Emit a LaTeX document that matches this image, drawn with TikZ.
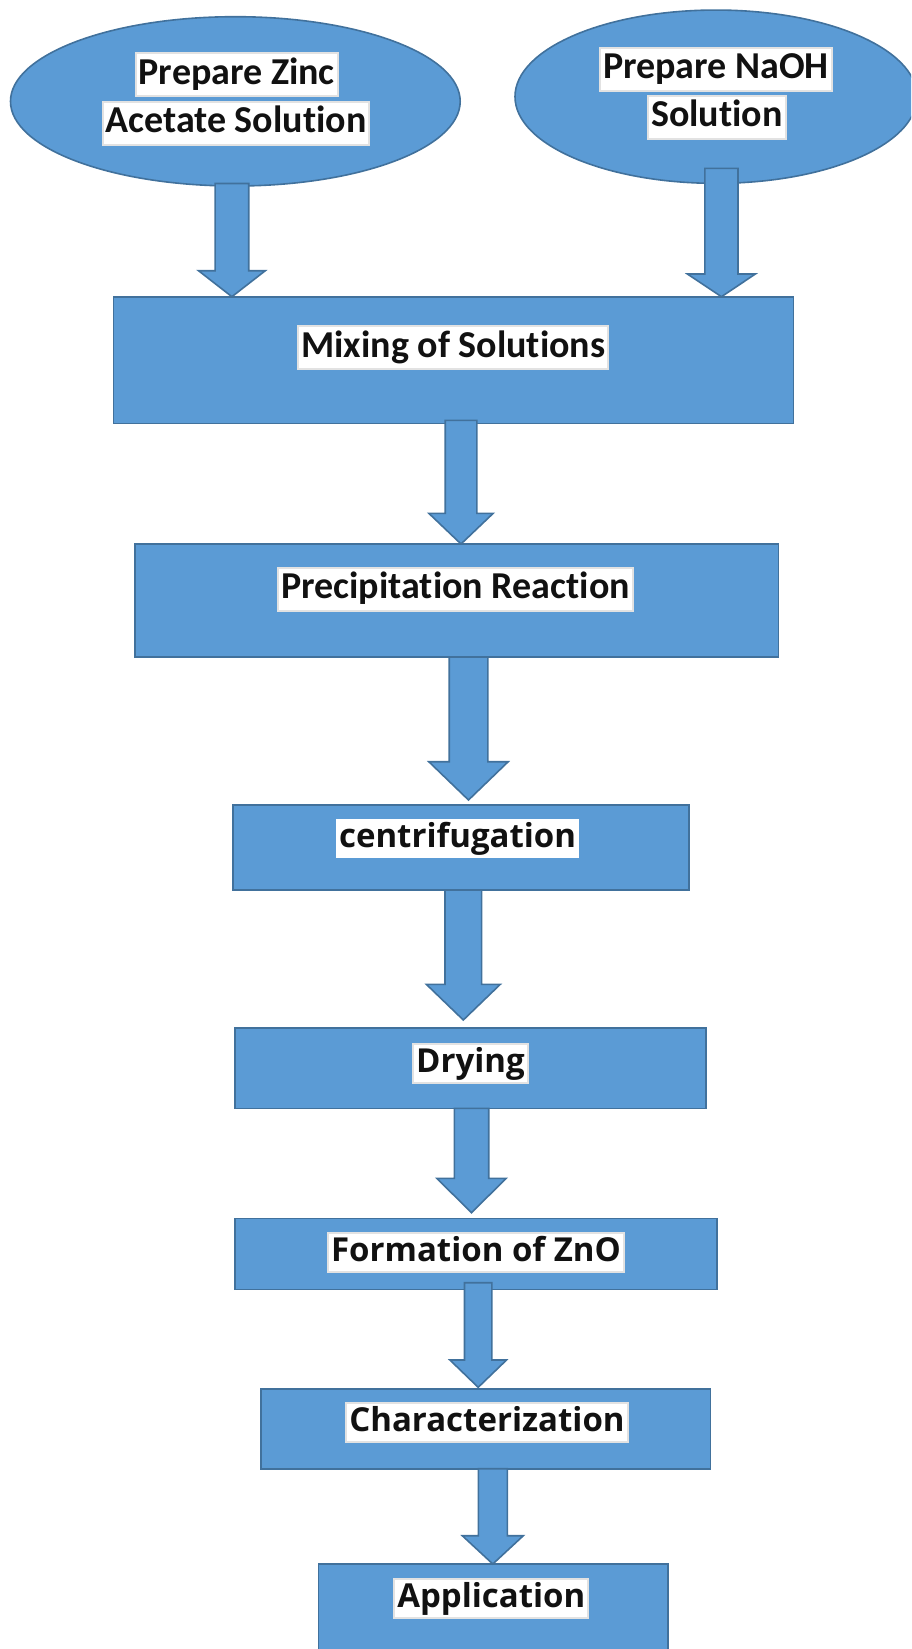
\documentclass[tikz,border=0pt]{standalone}
\usepackage{fontspec}
\usetikzlibrary{shapes.geometric,calc}
\newfontfamily\calibfont[Ligatures=NoCommon]{Carlito}
\newfontfamily\segfont{Open Sans}
\definecolor{boxblue}{RGB}{91,155,213}
\definecolor{boxedge}{RGB}{65,113,156}
\definecolor{labeledge}{RGB}{226,226,226}
\definecolor{labeltext}{RGB}{17,17,17}

\tikzset{
  stepbox/.style={draw=boxedge, fill=boxblue, line width=1.6pt, inner sep=0pt, outer sep=0pt},
  stepell/.style={stepbox, ellipse},
  flowlabel/.style={draw=labeledge, fill=white, line width=2pt, text=labeltext,
    inner xsep=3pt, inner ysep=2.5pt},
  narrowlabel/.style={flowlabel, text height=28.5pt, text depth=9.5pt,
    font=\calibfont\bfseries\fontsize{38}{40}\selectfont},
  widelabel/.style={flowlabel, text height=26pt, text depth=8pt,
    font=\segfont\bfseries\fontsize{33}{36}\selectfont},
  barrow/.style={draw=boxedge, fill=boxblue, line width=1.6pt, line join=miter}
}

% x, from, to, shaft half width, head half width, head length
\newcommand{\blockarrow}[6]{%
  \draw[barrow] let \p1=(#2), \p2=(#3) in
    (#1-#4,\y1) -- (#1-#4,\y2+#6) -- (#1-#5,\y2+#6) -- (#1,\y2)
    -- (#1+#5,\y2+#6) -- (#1+#4,\y2+#6) -- (#1+#4,\y1) -- cycle;}

\begin{document}
\begin{tikzpicture}[x=1pt,y=-1pt]
  \useasboundingbox (0,0) rectangle (911,1649);
  \clip (0,0) rectangle (911,1649);

  % sources
  \node[stepell, minimum width=449.7, minimum height=169.3] (zinc) at (235.35,101.35) {};
  \node[stepell, minimum width=402, minimum height=173.3] (naoh) at (716,96.7) {};

  % process steps
  \node[stepbox, minimum width=680, minimum height=126.6] (mix) at (453.3,360) {};
  \node[stepbox, minimum width=643.8, minimum height=113] (precip) at (456.6,600.5) {};
  \node[stepbox, minimum width=456.3, minimum height=85] (centri) at (460.85,847.5) {};
  \node[stepbox, minimum width=471, minimum height=80.3] (dry) at (470.5,1068.15) {};
  \node[stepbox, minimum width=481.7, minimum height=71] (zno) at (475.85,1253.8) {};
  \node[stepbox, minimum width=449.6, minimum height=79.7] (charac) at (485.5,1428.85) {};
  \node[stepbox, minimum width=349.4, minimum height=106] (app) at (493,1617) {};

  % arrows
  \blockarrow{231.9}{[yshift=2.5pt]zinc.south}{mix.north}{16.8}{33.4}{26}
  \blockarrow{721.4}{[yshift=15pt]naoh.south}{mix.north}{16.6}{34}{22.7}
  \blockarrow{461}{[yshift=3pt]mix.south}{precip.north}{15.8}{32.2}{30.7}
  \blockarrow{468.5}{precip.south}{[yshift=5pt]centri.north}{19.3}{39.7}{38.3}
  \blockarrow{463.3}{centri.south}{[yshift=8pt]dry.north}{18.3}{37}{35.7}
  \blockarrow{471.5}{dry.south}{[yshift=5.6pt]zno.north}{17.2}{34.7}{34.4}
  \blockarrow{478.2}{[yshift=6.6pt]zno.south}{[yshift=1.7pt]charac.north}{13.7}{28.3}{27.3}
  \blockarrow{492.8}{charac.south}{app.north}{14.5}{30.5}{28.3}

  % labels
  \node[narrowlabel] (zinct1) at (236.8,74.8) {Prepare Zinc};
  \node[narrowlabel] (zinct2) at (236,123.3) {Acetate Solution};
  \node[narrowlabel] (naoht1) at (716,69.2) {Prepare NaOH};
  \node[narrowlabel] (naoht2) at (716.8,117) {Solution};
  \node[narrowlabel] (mixt) at (453.4,347.5) {Mixing of Solutions};
  \node[narrowlabel] (precipt) at (455.5,589) {Precipitation Reaction};
  \node[widelabel, draw=none] (centrit) at (457.6,838) {centrifugation};
  \node[widelabel] (dryt) at (470.5,1063.6) {Drying};
  \node[widelabel] (znot) at (476,1252) {Formation of ZnO};
  \node[widelabel] (charact) at (487,1422.8) {Characterization};
  \node[widelabel] (appt) at (491.3,1598) {Application};
\end{tikzpicture}
\end{document}
